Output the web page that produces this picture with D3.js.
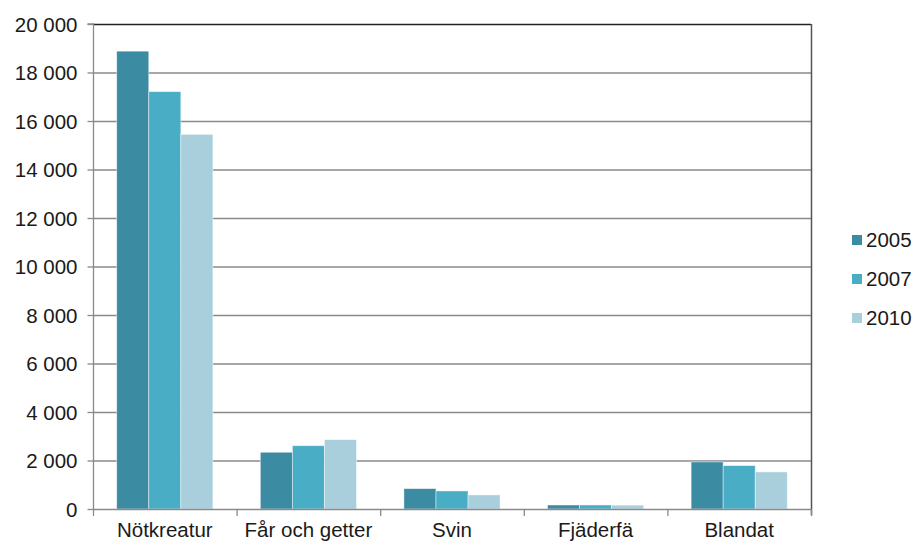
<!DOCTYPE html>
<html><head><meta charset="utf-8">
<script src="https://cdn.jsdelivr.net/npm/d3@7"></script>
<style>body{margin:0;background:#fff}svg{display:block}text{font-family:"Liberation Sans",Arial,sans-serif;fill:#1a1a1a}</style>
</head><body><svg id="c" width="917" height="542"></svg>
<script>
const categories = ["Nötkreatur", "Får och getter", "Svin", "Fjäderfä", "Blandat"];
const seriesNames = ["2005", "2007", "2010"];
const values2005 = [18880, 2340, 840, 165, 1940];
const values2007 = [17210, 2610, 745, 165, 1790];
const values2010 = [15450, 2860, 580, 160, 1530];
const yTicks = [0, 2000, 4000, 6000, 8000, 10000, 12000, 14000, 16000, 18000, 20000];
const colors = ["#3b8ba3", "#4aadc6", "#a9cfdd"];

const series = [values2005, values2007, values2010];
const svg = d3.select("#c");
const L = 93, R = 811, T = 24, B = 509;
const x = d3.scaleBand().domain(categories).range([L, R]).paddingInner(0).paddingOuter(0);
const y = d3.scaleLinear().domain([0, 20000]).range([B, T]);
const x1 = d3.scaleBand().domain(seriesNames).range([0, x.bandwidth()]).paddingInner(0).paddingOuter(0.74);
const fmt = v => d3.format(",")(v).replace(/,/g, " ");

// gridlines
svg.append("g").selectAll("line").data(yTicks.filter(t => t > 0)).join("line")
  .attr("x1", L).attr("x2", R).attr("y1", d => y(d) + 0.5).attr("y2", d => y(d) + 0.5)
  .attr("stroke", d => d === 20000 ? "#222" : "#8a8a8a").attr("stroke-width", 1.3);

// bars
categories.forEach((c, i) => {
  seriesNames.forEach((s, j) => {
    svg.append("rect")
      .attr("x", x(c) + x1(s)).attr("width", x1.bandwidth())
      .attr("y", y(series[j][i])).attr("height", B - y(series[j][i]))
      .attr("fill", colors[j]).attr("stroke", "rgba(255,255,255,0.55)").attr("stroke-width", 0.8);
  });
});

// right border
svg.append("line").attr("x1", R + 0.5).attr("x2", R + 0.5).attr("y1", T).attr("y2", B + 6)
  .attr("stroke", "#555").attr("stroke-width", 1.5);

// y axis
const yAxis = d3.axisLeft(y).tickValues(yTicks).tickSize(6).tickPadding(10).tickFormat(fmt);
const gy = svg.append("g").attr("transform", `translate(${L + 0.5},0)`).call(yAxis);
gy.select(".domain").attr("stroke", "#8a8a8a").attr("stroke-width", 1.3).attr("d", `M-6,${T}H0V${B}`);
gy.selectAll(".tick line").attr("stroke", "#8a8a8a").attr("stroke-width", 1.3);
gy.selectAll(".tick text").attr("font-size", 20.5).attr("fill", "#1a1a1a")
  .attr("font-family", "Liberation Sans, Arial, sans-serif").attr("dy", "0.36em");

// x axis
const xAxis = d3.axisBottom(x).tickSize(0).tickPadding(0);
const gx = svg.append("g").attr("transform", `translate(0,${B + 0.5})`).call(xAxis);
gx.select(".domain").attr("stroke", "#8a8a8a").attr("stroke-width", 1.3).attr("d", `M${L},0H${R}`);
gx.selectAll(".tick text").attr("font-size", 20.5).attr("fill", "#1a1a1a")
  .attr("font-family", "Liberation Sans, Arial, sans-serif").attr("y", 27).attr("dy", 0);
// boundary ticks
const bounds = categories.map(c => x(c)).concat([R]);
svg.append("g").selectAll("line").data(bounds).join("line")
  .attr("x1", d => d + 0.5).attr("x2", d => d + 0.5).attr("y1", B).attr("y2", B + 7)
  .attr("stroke", "#8a8a8a").attr("stroke-width", 1.3);

// legend
const lg = svg.append("g");
seriesNames.forEach((s, j) => {
  const cy = 240 + j * 39;
  lg.append("rect").attr("x", 852).attr("y", cy - 5).attr("width", 10).attr("height", 10).attr("fill", colors[j]);
  lg.append("text").attr("x", 866).attr("y", cy).attr("dy", "0.36em").attr("font-size", 20.5).text(s);
});
</script></body></html>
